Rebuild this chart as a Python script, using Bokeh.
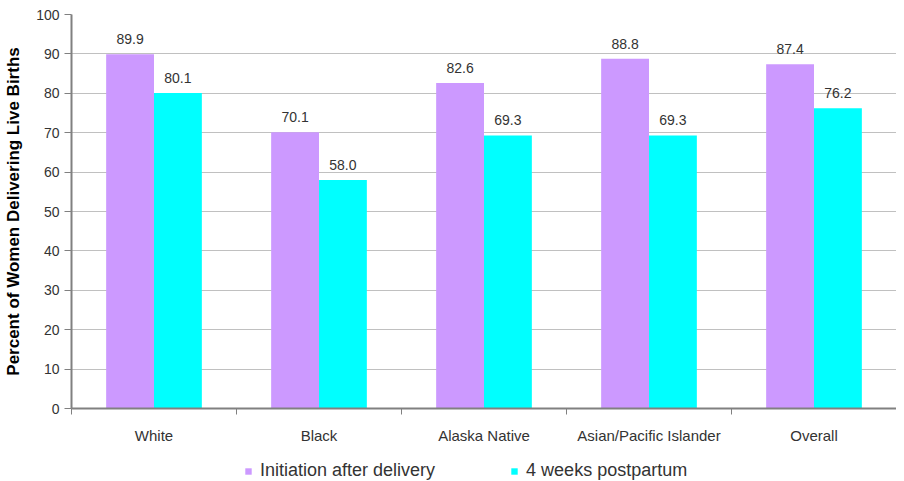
from bokeh.plotting import figure
from bokeh.models import ColumnDataSource, Range1d, FixedTicker, LabelSet, Legend, LegendItem
from bokeh.layouts import column
from bokeh.core.properties import value
from bokeh.embed import file_html
from bokeh.resources import INLINE
import numpy as np

categories = ["White", "Black", "Alaska Native", "Asian/Pacific Islander", "Overall"]
initiation = [89.9, 70.1, 82.6, 88.8, 87.4]
postpartum = [80.1, 58.0, 69.3, 69.3, 76.2]
series_names = ["Initiation after delivery", "4 weeks postpartum"]
series_colors = ["#CC99FF", "#00FFFF"]
y_ticks = list(range(0, 101, 10))

centers = np.arange(len(categories)) + 0.5
off = 0.145
bw = 0.29

src = ColumnDataSource(dict(
    xa=centers - off, xb=centers + off,
    a=initiation, b=postpartum,
    la=[f"{v:.1f}" for v in initiation], lb=[f"{v:.1f}" for v in postpartum],
))

p = figure(frame_width=825, frame_height=394, output_backend="svg", toolbar_location=None,
           x_range=Range1d(0, len(categories)), y_range=Range1d(0, 100),
           min_border_left=71, min_border_right=0, min_border_top=14, min_border_bottom=45)
p.outline_line_color = None

ra = p.vbar(x="xa", top="a", width=bw, source=src, fill_color=series_colors[0], line_color=None)
rb = p.vbar(x="xb", top="b", width=bw, source=src, fill_color=series_colors[1], line_color=None)

font = "Liberation Sans"
for xcol, ycol, lcol in [("xa", "a", "la"), ("xb", "b", "lb")]:
    ls = LabelSet(x=xcol, y=ycol, text=lcol, source=src, y_offset=10,
                  text_align="center", text_baseline="bottom",
                  text_font=value(font), text_font_size=value("14px"), text_color=value("#333333"))
    p.add_layout(ls)

# y axis
p.yaxis.ticker = FixedTicker(ticks=y_ticks)
p.yaxis.axis_line_color = "#808080"
p.yaxis.axis_line_width = 2
p.yaxis.major_tick_line_color = "#808080"
p.yaxis.major_tick_out = 7
p.yaxis.major_tick_in = 0
p.yaxis.minor_tick_line_color = None
p.yaxis.major_label_text_font = font
p.yaxis.major_label_text_font_size = "14px"
p.yaxis.major_label_text_color = "#333333"
p.yaxis.axis_label = "Percent of Women Delivering Live Births"
p.yaxis.axis_label_text_font = font
p.yaxis.axis_label_text_font_style = "bold"
p.yaxis.axis_label_text_font_size = "17px"
p.yaxis.axis_label_text_color = "#000000"
p.yaxis.axis_label_standoff = 10

# x axis
p.xaxis.ticker = FixedTicker(ticks=list(centers), minor_ticks=list(range(len(categories) + 1)))
p.xaxis.major_label_overrides = {float(c): n for c, n in zip(centers, categories)}
p.xaxis.major_tick_line_color = None
p.xaxis.minor_tick_line_color = "#808080"
p.xaxis.minor_tick_out = 6
p.xaxis.minor_tick_in = 0
p.xaxis.axis_line_color = "#808080"
p.xaxis.axis_line_width = 2
p.xaxis.major_label_text_font = font
p.xaxis.major_label_text_font_size = "15px"
p.xaxis.major_label_text_color = "#333333"
p.xaxis.major_label_standoff = 12

p.xgrid.grid_line_color = None
p.ygrid.ticker = FixedTicker(ticks=y_ticks)
p.ygrid.grid_line_color = "#C0C0C0"
p.ygrid.grid_line_width = 1

# legend strip below the chart (frames are aligned with the chart above)
lf = figure(frame_width=825, height=28, output_backend="svg", toolbar_location=None,
            x_range=Range1d(0, len(categories)), y_range=Range1d(1000, 1001),
            min_border_left=71, min_border_right=0, min_border_top=0, min_border_bottom=0,
            x_axis_location=None, y_axis_location=None)
lf.outline_line_color = None
lf.grid.visible = False
la_r = lf.vbar(x="xa", top="a", width=bw, source=src, fill_color=series_colors[0], line_color=None)
lb_r = lf.vbar(x="xb", top="b", width=bw, source=src, fill_color=series_colors[1], line_color=None)
legend = Legend(items=[LegendItem(label=series_names[0], renderers=[la_r]),
                       LegendItem(label=series_names[1], renderers=[lb_r])],
                orientation="horizontal", location=(173, 0),
                label_text_font=font, label_text_font_size="18px", label_text_color="#333333",
                glyph_width=8, glyph_height=8, spacing=75, label_standoff=8, label_height=18,
                border_line_color=None, background_fill_alpha=0, padding=0, margin=0)
lf.add_layout(legend)

open("out.html", "w").write(file_html(column(p, lf, spacing=0), INLINE))
